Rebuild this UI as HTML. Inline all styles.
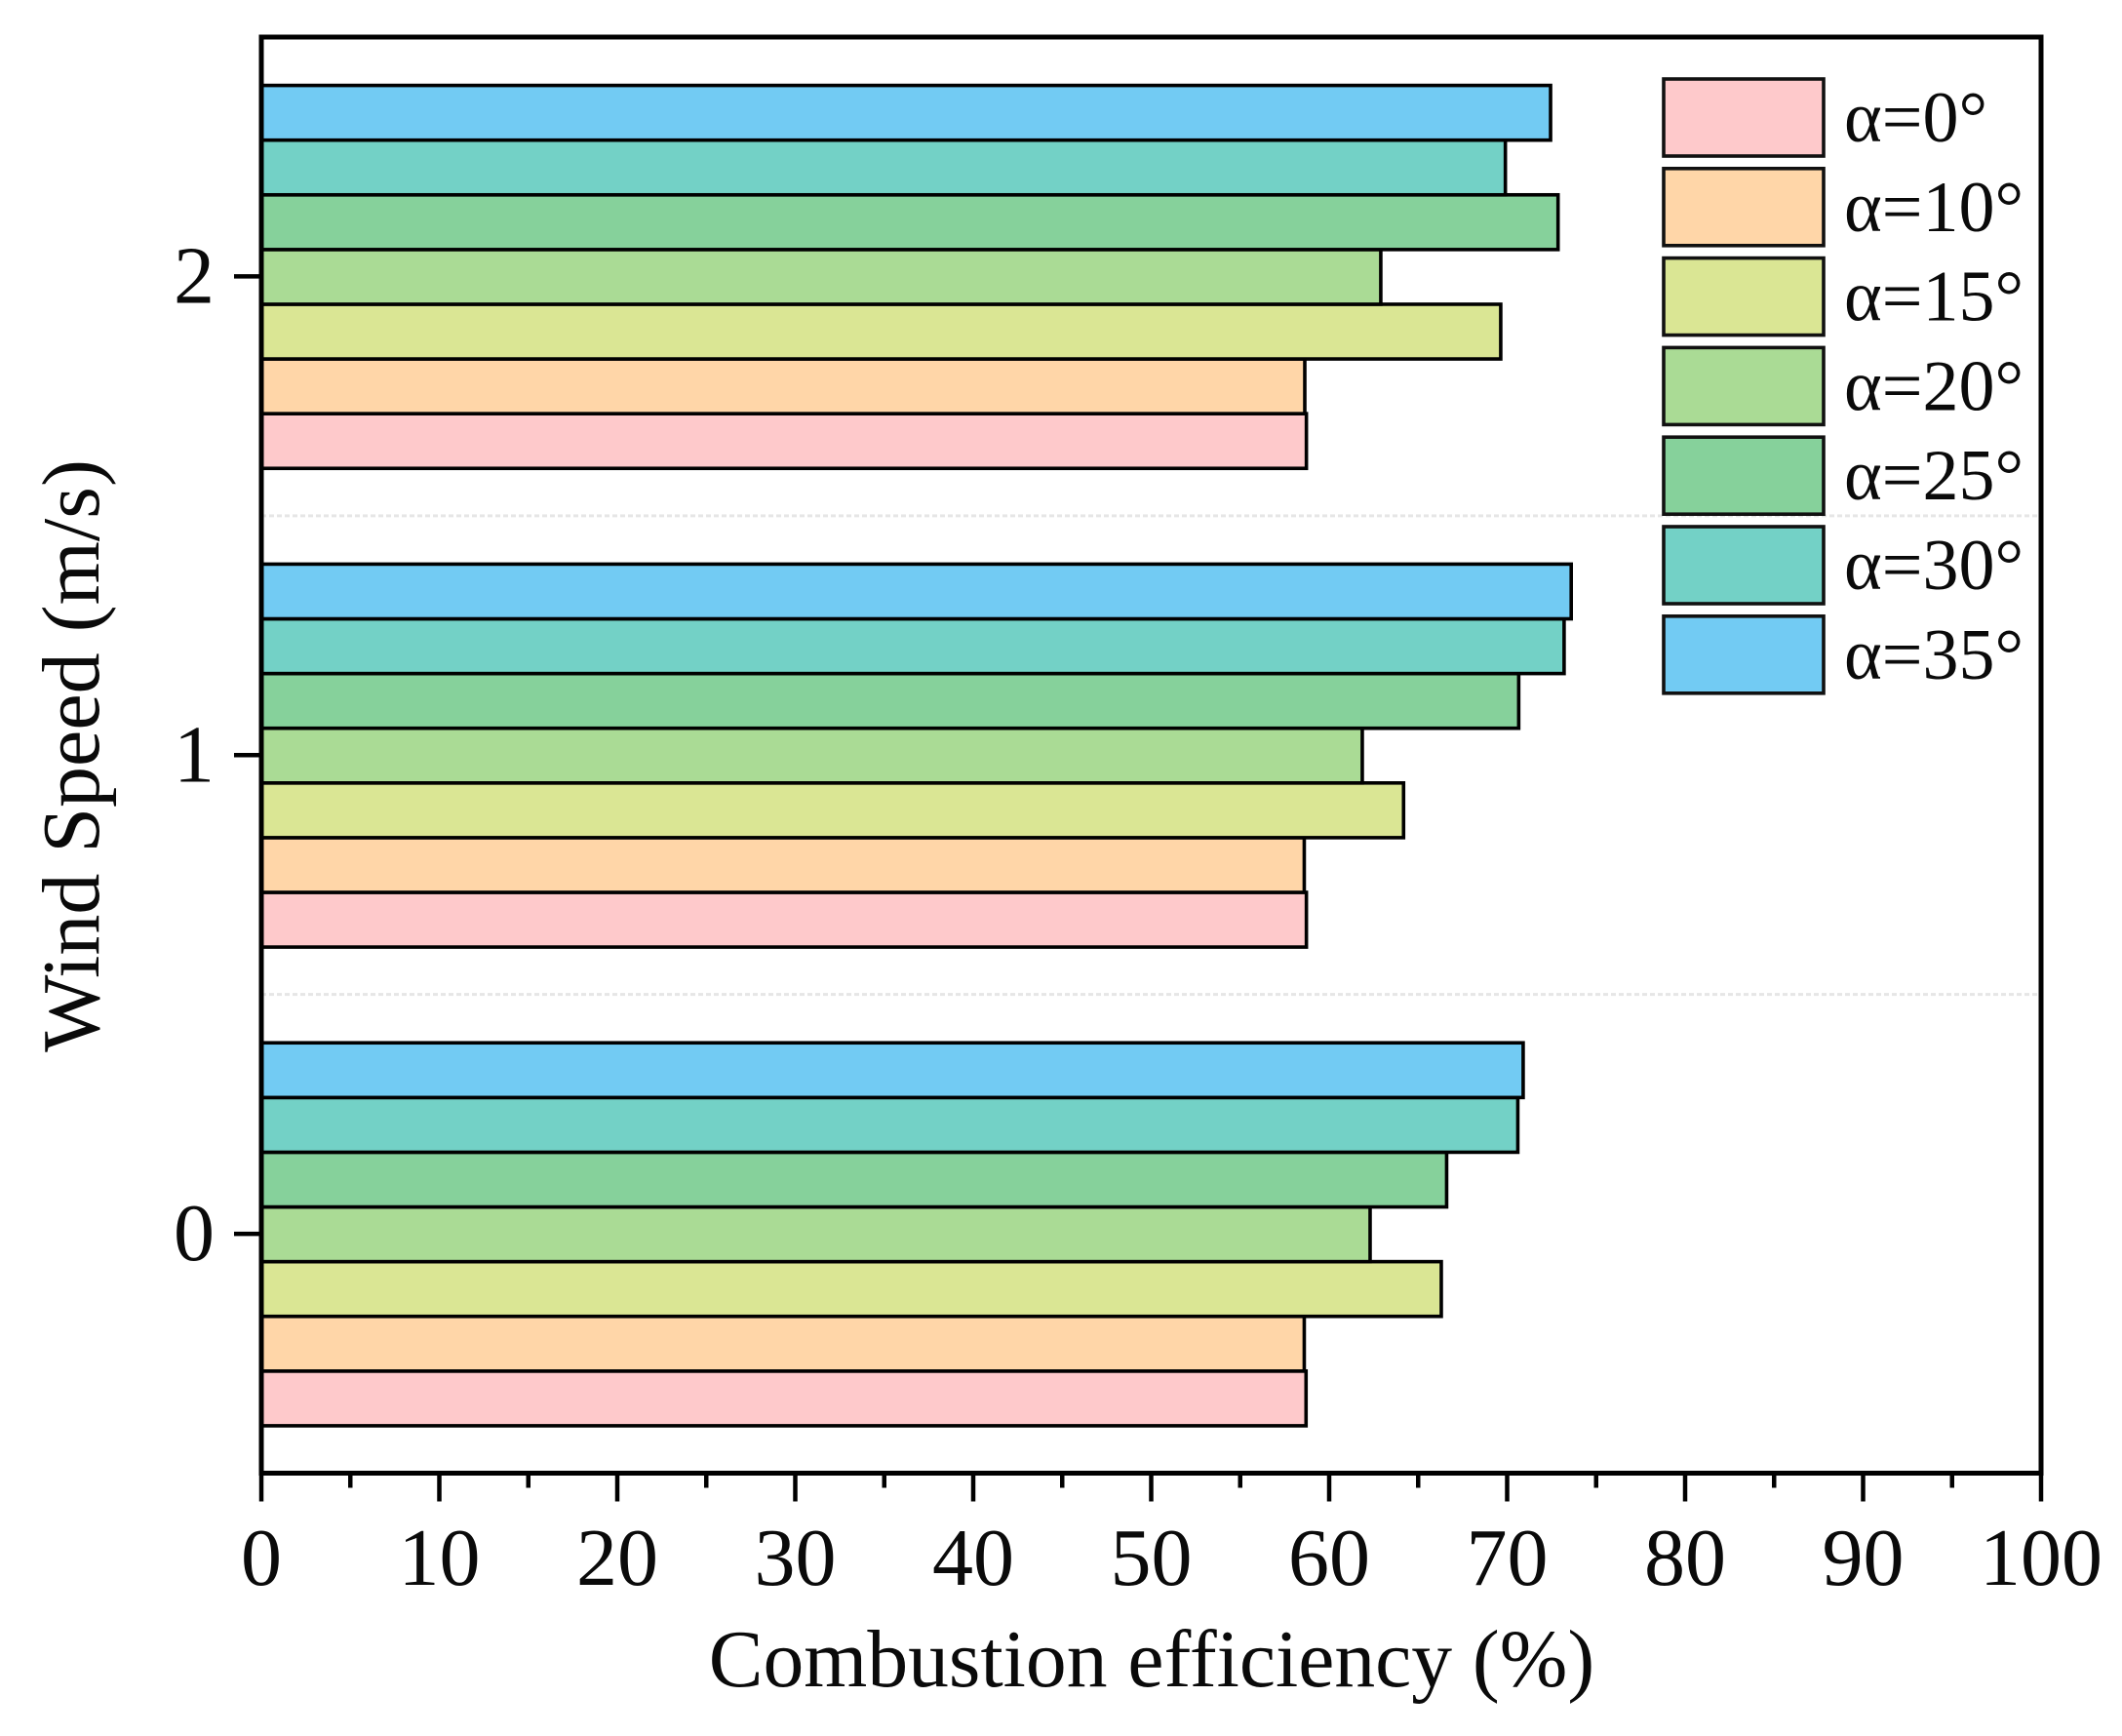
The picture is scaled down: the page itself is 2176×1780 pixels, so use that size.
<!DOCTYPE html>
<html lang="en">
<head>
<meta charset="utf-8">
<title>Combustion efficiency by wind speed</title>
<style>
  html, body { margin: 0; padding: 0; background: #fff; }
  svg { display: block; }
  text { font-family: "Liberation Serif", serif; fill: #0a0a0a; }
</style>
</head>
<body>
<svg id="chart" width="2176" height="1780" viewBox="0 0 2176 1780" xmlns="http://www.w3.org/2000/svg"></svg>
<script>
const windSpeeds = [0, 1, 2];
const seriesLabels = ['α=0°', 'α=10°', 'α=15°', 'α=20°', 'α=25°', 'α=30°', 'α=35°'];
const seriesColors = ['#FEC9CB', '#FFD6A8', '#DAE694', '#AADB95', '#86D19B', '#73D1C6', '#72CBF3'];
const alpha0 = [58.7, 58.72, 58.72];
const alpha10 = [58.6, 58.6, 58.63];
const alpha15 = [66.3, 64.18, 69.64];
const alpha20 = [62.3, 61.86, 62.9];
const alpha25 = [66.6, 70.65, 72.86];
const alpha30 = [70.6, 73.2, 69.9];
const alpha35 = [70.9, 73.6, 72.44];
const seriesValues = [alpha0, alpha10, alpha15, alpha20, alpha25, alpha30, alpha35];
const xTickLabels = [0, 10, 20, 30, 40, 50, 60, 70, 80, 90, 100];
const xMinorTicks = [5, 15, 25, 35, 45, 55, 65, 75, 85, 95];
const separators = [0.5, 1.5];

const NS = 'http://www.w3.org/2000/svg';
const svg = document.getElementById('chart');
const plot = { left: 268, right: 2093, top: 38, bottom: 1510.5 };
const xDomain = [0, 100];
const yDomain = [-0.5, 2.5];
const groupWidth = 0.8;

function xScale(v) {
  return plot.left + (v - xDomain[0]) / (xDomain[1] - xDomain[0]) * (plot.right - plot.left);
}
function yScale(v) {
  return plot.bottom - (v - yDomain[0]) / (yDomain[1] - yDomain[0]) * (plot.bottom - plot.top);
}
function make(tag, attrs, parent) {
  const el = document.createElementNS(NS, tag);
  for (const k in attrs) el.setAttribute(k, attrs[k]);
  (parent || svg).appendChild(el);
  return el;
}

// plot background
const plotBg = make('rect', { x: plot.left, y: plot.top, width: plot.right - plot.left, height: plot.bottom - plot.top, fill: '#fff' });



// dotted separators between wind speed groups
separators.forEach(function (s) {
  const line = make('line', { x1: plot.left, x2: plot.right, y1: yScale(s), y2: yScale(s), stroke: '#e6e6e6', 'stroke-width': 3, 'stroke-dasharray': '5 3' });
  
  
});

// bars
const barHeight = (yScale(0) - yScale(groupWidth)) / seriesValues.length;
windSpeeds.forEach(function (speed, g) {
  seriesValues.forEach(function (values, s) {
    const yBottom = yScale(speed - groupWidth / 2) - s * barHeight + 0.5;
    const bar = make('rect', {
      x: xScale(0),
      y: yBottom - barHeight,
      width: xScale(values[g]) - xScale(0),
      height: barHeight,
      fill: seriesColors[s],
      stroke: '#000',
      'stroke-width': 3.6
    });
    
    
  });
});

// axes frame
const frame = make('rect', { x: plot.left, y: plot.top, width: plot.right - plot.left, height: plot.bottom - plot.top, fill: 'none', stroke: '#000', 'stroke-width': 5 });



// x ticks
xTickLabels.forEach(function (t) {
  const tick = make('line', { x1: xScale(t), x2: xScale(t), y1: plot.bottom, y2: plot.bottom + 29, stroke: '#000', 'stroke-width': 4.5 });
  
  
  const label = make('text', { x: xScale(t), y: 1625, 'font-size': 84, 'text-anchor': 'middle' });
  label.textContent = t;
  
  
});
xMinorTicks.forEach(function (t) {
  const tick = make('line', { x1: xScale(t), x2: xScale(t), y1: plot.bottom, y2: plot.bottom + 15, stroke: '#000', 'stroke-width': 4.5 });
  
  
});

// y ticks
windSpeeds.forEach(function (speed) {
  const y = yScale(speed);
  const tick = make('line', { x1: 240, x2: plot.left, y1: y, y2: y, stroke: '#000', 'stroke-width': 4.5 });
  
  
  const label = make('text', { x: 199, y: y + 27, 'font-size': 84, 'text-anchor': 'middle' });
  label.textContent = speed;
  
  
});

// axis titles
const xTitle = make('text', { x: 1181, y: 1729, 'font-size': 83.6, 'text-anchor': 'middle' });
xTitle.textContent = 'Combustion efficiency (%)';



const yTitle = make('text', { x: 0, y: 0, 'font-size': 84, 'text-anchor': 'middle', transform: 'translate(101 775) rotate(-90)' });
yTitle.textContent = 'Wind Speed (m/s)';



// legend
const legend = make('g', {});


const legendTop = 81;
const legendPitch = 91.8;
seriesLabels.forEach(function (labelText, i) {
  const y = legendTop + i * legendPitch;
  const swatch = make('rect', { x: 1706, y: y, width: 164, height: 79, fill: seriesColors[i], stroke: '#111', 'stroke-width': 3.6 }, legend);
  
  
  const label = make('text', { x: 1891, y: y + 64, 'font-size': 74 }, legend);
  label.textContent = labelText;
  
  
});
</script>
</body>
</html>
